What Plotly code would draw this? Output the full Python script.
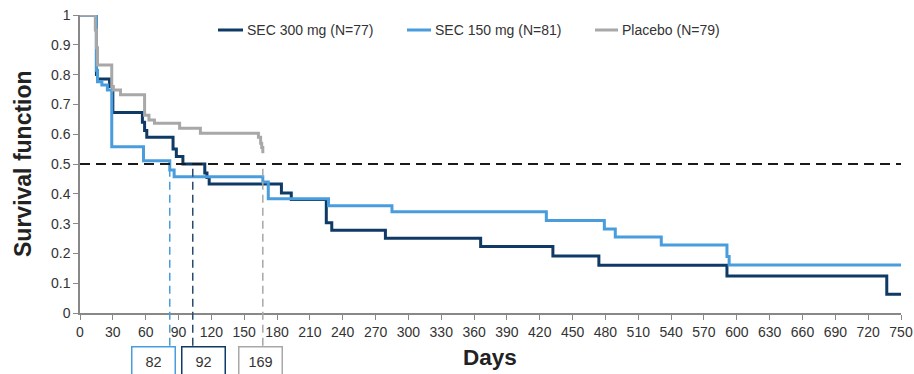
import plotly.graph_objects as go

# ---- data ----
sec300_days = [0, 15, 16, 27, 30, 57, 59, 61, 85, 88, 94, 114, 116, 118, 184, 193, 225, 230, 279, 366, 432, 474, 591, 737, 750]
sec300_surv = [1, 0.80, 0.785, 0.76, 0.673, 0.64, 0.612, 0.59, 0.55, 0.525, 0.50, 0.47, 0.455, 0.433, 0.403, 0.381, 0.303, 0.278, 0.251, 0.223, 0.191, 0.160, 0.124, 0.063, 0.063]

sec150_days = [0, 15, 16, 20, 25, 29, 58, 82, 86, 167, 172, 227, 285, 426, 479, 489, 531, 591, 593, 750]
sec150_surv = [1, 0.815, 0.776, 0.765, 0.748, 0.558, 0.511, 0.48, 0.457, 0.44, 0.383, 0.36, 0.34, 0.31, 0.282, 0.255, 0.228, 0.19, 0.161, 0.161]

placebo_days = [0, 14, 15, 16, 29, 30, 37, 59, 63, 68, 91, 110, 163, 165, 166, 167]
placebo_surv = [1, 0.95, 0.89, 0.832, 0.76, 0.748, 0.732, 0.664, 0.648, 0.637, 0.620, 0.603, 0.59, 0.57, 0.555, 0.536]

series_names = ["SEC 300 mg (N=77)", "SEC 150 mg (N=81)", "Placebo (N=79)"]
series_colors = ["#0f3a66", "#4a9ddd", "#a8a8a8"]

median_labels = ["82", "92", "169"]          # box texts
median_line_days = [82, 103, 167]            # where the dashed drop lines are drawn
median_line_colors = ["#4a9ddd", "#2a4a70", "#a8a8a8"]
box_center_days = [67.5, 112.5, 165]
box_colors = ["#4a9ddd", "#0f3a66", "#a8a8a8"]

x_ticks = list(range(0, 751, 30))
y_ticks = [0, 0.1, 0.2, 0.3, 0.4, 0.5, 0.6, 0.7, 0.8, 0.9, 1]
median_level = 0.5

FONT = "Liberation Sans, Arial, sans-serif"

fig = go.Figure()
for d, s, name, col in zip([sec300_days, sec150_days, placebo_days],
                           [sec300_surv, sec150_surv, placebo_surv],
                           series_names, series_colors):
    fig.add_trace(go.Scatter(x=d, y=s, mode="lines", name=name,
                             line=dict(color=col, width=3, shape="hv"),
                             cliponaxis=False, showlegend=False, hoverinfo="skip"))

shapes = []
# horizontal median line
shapes.append(dict(type="line", xref="x", yref="y", x0=0, x1=750, y0=median_level, y1=median_level,
                   line=dict(color="#1a1a1a", width=2, dash="10px,6px"), layer="above"))
# vertical median drop lines
for xd, col in zip(median_line_days, median_line_colors):
    shapes.append(dict(type="line", xref="x", yref="paper", x0=xd, x1=xd,
                       y0=-0.11, y1=median_level,
                       line=dict(color=col, width=1.5, dash="8px,5px"), layer="above"))

annotations = []
for lab, xc, col in zip(median_labels, box_center_days, box_colors):
    annotations.append(dict(text=lab, xref="x", yref="paper", x=xc, y=-0.166,
                            xanchor="center", yanchor="middle", showarrow=False,
                            width=40, height=27, bordercolor=col, borderwidth=1.5, borderpad=1,
                            bgcolor="white", font=dict(family=FONT, size=14.5, color="#333333")))

# manual legend
leg_y = (313 - 30) / 298
leg_segments = [(218, 243), (407, 431), (595, 618)]
for (a, b), name, col in zip(leg_segments, series_names, series_colors):
    shapes.append(dict(type="line", xref="paper", yref="paper",
                       x0=(a - 80) / 821, x1=(b - 80) / 821, y0=leg_y, y1=leg_y,
                       line=dict(color=col, width=3)))
    annotations.append(dict(text=name, xref="paper", yref="paper", x=(b + 2 - 80) / 821, y=leg_y,
                            xanchor="left", yanchor="middle", showarrow=False,
                            font=dict(family=FONT, size=14, color="#333333")))

annotations.append(dict(text="Survival function", xref="paper", yref="paper",
                        x=(23 - 80) / 821, y=(313 - 164) / 298, textangle=-90,
                        xanchor="center", yanchor="middle", showarrow=False,
                        font=dict(family=FONT, size=23, color="#222222", weight="bold")))
annotations.append(dict(text="Days", xref="paper", yref="paper",
                        x=(490 - 80) / 821, y=(313 - 357) / 298,
                        xanchor="center", yanchor="middle", showarrow=False,
                        font=dict(family=FONT, size=22.5, color="#222222", weight="bold")))

fig.update_layout(
    width=914, height=374,
    margin=dict(l=80, r=13, t=15, b=61, autoexpand=False),
    paper_bgcolor="white", plot_bgcolor="white",
    font=dict(family=FONT, size=14, color="#333333"),
    shapes=shapes, annotations=annotations,
    showlegend=False,
)
fig.update_xaxes(range=[0, 750], tickvals=x_ticks, ticks="outside", ticklen=5, automargin=False,
                 tickcolor="#888888", tickwidth=1, showline=True, linecolor="#888888", linewidth=1.5,
                 showgrid=False, zeroline=False, tickfont=dict(family=FONT, size=14, color="#333333"))
fig.update_yaxes(range=[0, 1], tickvals=y_ticks, ticktext=[("%g" % v) for v in y_ticks], automargin=False,
                 ticks="outside", ticklen=5, tickcolor="#888888", tickwidth=1,
                 showline=True, linecolor="#888888", linewidth=1.5,
                 showgrid=False, zeroline=False, tickfont=dict(family=FONT, size=14, color="#333333"))

fig.write_html("out.html")
